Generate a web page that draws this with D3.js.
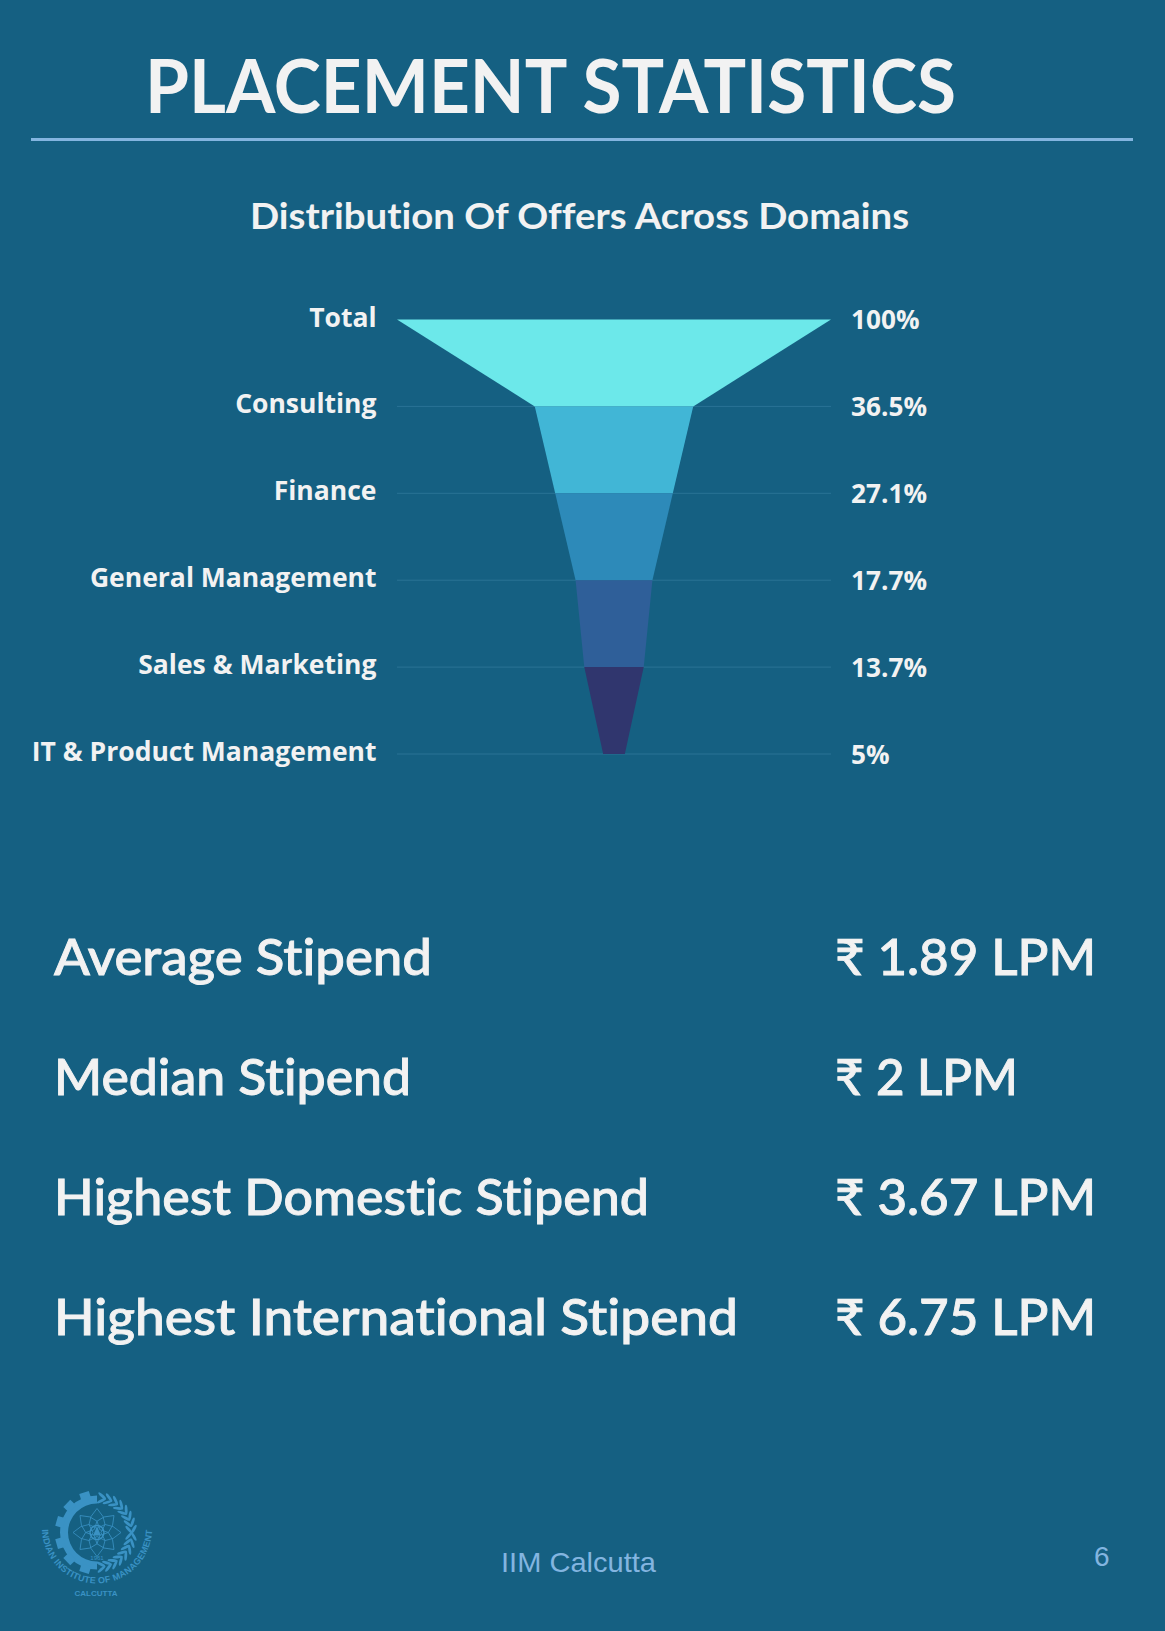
<!DOCTYPE html>
<html><head><meta charset="utf-8">
<script src="https://cdn.jsdelivr.net/npm/d3@7/dist/d3.min.js"></script>
<style>html,body{margin:0;padding:0;background:#156082}svg{display:block}text{font-variant-ligatures:none;font-feature-settings:"liga" 0}</style>
</head><body><svg id="c" width="1165" height="1631"></svg>
<script>
const categories=["Total","Consulting","Finance","General Management","Sales & Marketing","IT & Product Management"];
const shares=[100,36.5,27.1,17.7,13.7,5];
const shareLabels=["100%","36.5%","27.1%","17.7%","13.7%","5%"];
const sliceColors=["#6ce8ea","#41b6d6","#2d8ab9","#2f5f99","#30366e"];
const stipendNames=["Average Stipend","Median Stipend","Highest Domestic Stipend","Highest International Stipend"];
const stipendValues=["₹ 1.89 LPM","₹ 2 LPM","₹ 3.67 LPM","₹ 6.75 LPM"];

const HEAD="Lato, 'Noto Sans', sans-serif", LAB="'Open Sans', sans-serif";
const WHITE="#f2f2f2", BLUE="#83b5e0", LOGO="#3a92c4";
const svg=d3.select("#c");
svg.append("rect").attr("width",1165).attr("height",1631).attr("fill","#156082");

function fitted(sel,x,y,txt,size,len,fam,w,fill,anchor){
  const t=sel.append("text").attr("x",x).attr("y",y).attr("font-family",fam).attr("font-size",size)
    .attr("font-weight",w).attr("fill",fill).attr("text-anchor",anchor||"start").text(txt);
  if(len) t.attr("textLength",len).attr("lengthAdjust","spacingAndGlyphs");
  return t;
}
fitted(svg,145,113,"PLACEMENT STATISTICS",75,811,HEAD,700,WHITE);
svg.append("line").attr("x1",31).attr("x2",1133).attr("y1",139.5).attr("y2",139.5).attr("stroke",BLUE).attr("stroke-width",3);
fitted(svg,250,229,"Distribution Of Offers Across Domains",36,659,HEAD,700,WHITE);

// funnel
const x=d3.scaleLinear().domain([-100,100]).range([397,831]);
const y=d3.scalePoint().domain(categories).range([319.5,754]);
const g=svg.append("g");
g.selectAll("line").data(categories.slice(1)).join("line")
  .attr("x1",x(-100)).attr("x2",x(100)).attr("y1",d=>y(d)).attr("y2",d=>y(d))
  .attr("stroke","#2a7395").attr("stroke-width",1);
const line=d3.line().x(d=>x(d[0])).y(d=>y(d[1]));
g.selectAll("path").data(sliceColors).join("path").attr("fill",d=>d)
  .attr("d",(d,i)=>line([[-shares[i],categories[i]],[shares[i],categories[i]],[shares[i+1],categories[i+1]],[-shares[i+1],categories[i+1]]])+"Z");
g.selectAll("text.cat").data(categories).join("text").attr("class","cat")
  .attr("x",376.5).attr("y",d=>y(d)+7).attr("text-anchor","end").attr("font-family",LAB)
  .attr("font-size",26.5).attr("font-weight",700).attr("fill",WHITE).text(d=>d);
g.selectAll("text.val").data(shareLabels).join("text").attr("class","val")
  .attr("x",851).attr("y",(d,i)=>y(categories[i])+9.5).attr("font-family",LAB)
  .attr("font-size",26.2).attr("font-weight",700).attr("fill",WHITE).text(d=>d);

// stipends
const rowY=d3.scalePoint().domain(stipendNames).range([975,1335]);
const nameW=[378,357,595,684], valW=[261,183,261,261];
stipendNames.forEach((n,i)=>{
  fitted(svg,54,rowY(n),n,50,nameW[i],HEAD,500,WHITE).attr("stroke",WHITE).attr("stroke-width",.9);
  fitted(svg,835,rowY(n),stipendValues[i],50,valW[i],HEAD,500,WHITE).attr("stroke",WHITE).attr("stroke-width",.9);
});

// footer
fitted(svg,501,1572,"IIM Calcutta",28,155,"'Liberation Sans', Arial, sans-serif",400,BLUE);
fitted(svg,1094,1566,"6",28,null,"'Liberation Sans', Arial, sans-serif",400,BLUE);

// logo
const L=svg.append("g").attr("transform","translate(97,1532.5)").attr("fill",LOGO);
L.append("path").attr("d",d3.arc()({innerRadius:29,outerRadius:37,startAngle:Math.PI,endAngle:2*Math.PI}));
[198,226,254,286,314,342].forEach(a=>L.append("rect").attr("x",-5).attr("y",-42).attr("width",10).attr("height",8)
  .attr("transform",`rotate(${a})`));
d3.range(8,176,11).forEach(a=>{
  const s=a<90?1:-1;
  L.append("ellipse").attr("rx",1.4).attr("ry",5).attr("transform",`rotate(${a}) translate(0,-37) rotate(${-55*s})`);
  L.append("ellipse").attr("rx",1.4).attr("ry",5).attr("transform",`rotate(${a}) translate(0,-32) rotate(${55*s})`);
});
const M=L.append("g").attr("fill","none").attr("stroke",LOGO).attr("stroke-width",.8);
d3.range(0,360,45).forEach(a=>M.append("path").attr("d","M0,-24L6,-16L8,-8L0,-4L-8,-8L-6,-16Z").attr("transform",`rotate(${a})`));
M.append("circle").attr("r",7).attr("stroke-width",1.4);
L.append("path").attr("d","M0,-6L4,3L-4,3Z");
L.append("text").attr("y",27).attr("text-anchor","middle").attr("font-size",6).attr("font-family","'Liberation Sans'").text("1961");
svg.append("defs").append("path").attr("id","arcText").attr("d","M-55,-4A55,55 0 0 0 55,-4");
L.append("text").attr("font-size",9).attr("font-family","'Liberation Sans', Arial").attr("font-weight",700)
  .append("textPath").attr("href","#arcText").attr("startOffset",1).attr("textLength",170).text("INDIAN INSTITUTE OF MANAGEMENT");
L.append("text").attr("y",63.5).attr("x",-1).attr("text-anchor","middle").attr("font-size",8).attr("font-weight",700)
  .attr("font-family","'Liberation Sans', Arial").text("CALCUTTA");
</script></body></html>
